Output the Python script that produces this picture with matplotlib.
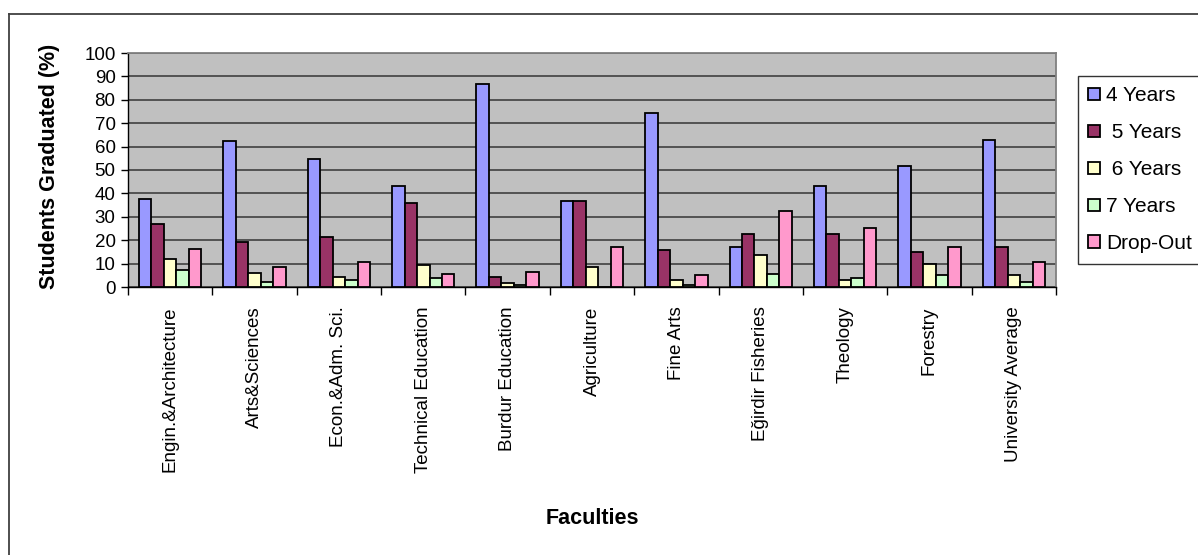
import matplotlib
matplotlib.use("Agg")  # no display in the sandbox
import matplotlib.pyplot as plt
import numpy as np
from matplotlib.lines import Line2D

plt.rcParams["font.family"] = ["Liberation Sans", "DejaVu Sans"]

# ─────────────────────────────────────────────────────────────
# DATA
# ─────────────────────────────────────────────────────────────

faculties = [
    "Engin.&Architecture", "Arts&Sciences", "Econ.&Adm. Sci.",
    "Technical Education", "Burdur Education", "Agriculture",
    "Fine Arts", "Eğirdir Fisheries", "Theology", "Forestry",
    "University Average",
]
series_labels = ["4 Years", " 5 Years", " 6 Years", "7 Years", "Drop-Out"]

years4 = [37.5, 62.2, 54.5, 43.2, 86.9, 36.7, 74.2, 17.0, 43.2, 51.9, 62.9]
years5 = [27.1, 19.4, 21.3, 35.7, 4.1, 36.7, 16.0, 22.8, 22.8, 15.1, 17.0]
years6 = [11.8, 5.8, 4.1, 9.3, 1.6, 8.4, 3.1, 13.6, 3.1, 10.0, 5.0]
years7 = [7.4, 2.3, 3.1, 4.0, 0.8, 0.0, 0.7, 5.7, 4.0, 5.0, 2.1]
dropout = [16.1, 8.4, 10.8, 5.7, 6.6, 17.0, 5.1, 32.4, 25.4, 17.0, 10.8]

series_colors = ["#9999FF", "#993366", "#FFFFCC", "#CCFFCC", "#FF99CC"]

W, H = 1198, 555


def px(x0, y0):
    """Pixel position (from top-left) to figure fraction."""
    return x0 / W, 1 - y0 / H


# ─────────────────────────────────────────────────────────────
# FIGURE
# ─────────────────────────────────────────────────────────────

fig = plt.figure(figsize=(W / 100, H / 100), dpi=100)

# outer chart-area border (left and top only are visible)
fig.add_artist(Line2D([9 / W, 9 / W], [0, 1 - 14 / H], transform=fig.transFigure,
                      color="#404040", lw=1.3))
fig.add_artist(Line2D([9 / W, 1], [1 - 14 / H, 1 - 14 / H], transform=fig.transFigure,
                      color="#404040", lw=1.3))

left, top = px(128, 53)
right, bottom = px(1056, 287)
ax = fig.add_axes([left, bottom, right - left, top - bottom])
ax.set_facecolor("#C0C0C0")

x = np.arange(len(faculties))
width = 0.148
all_series = [years4, years5, years6, years7, dropout]
handles = []
for i, (vals, col) in enumerate(zip(all_series, series_colors)):
    b = ax.bar(x + (i - 2) * width, vals, width, color=col, edgecolor="black",
               linewidth=1.3, zorder=3)
    handles.append(b)

ax.set_xlim(-0.5, len(faculties) - 0.5)
ax.set_ylim(0, 100)
ax.set_yticks(np.arange(0, 101, 10))
ax.yaxis.grid(True, color="#404040", linewidth=1.2, zorder=0)
ax.set_axisbelow(True)

ax.set_xticks(x)
ax.set_xticklabels(faculties, rotation=90, fontsize=13.5)
ax.set_xticks(np.arange(-0.5, len(faculties)), minor=True)
ax.tick_params(axis="x", which="major", length=0, pad=14)
ax.tick_params(axis="x", which="minor", length=6, width=1, color="black")
ax.tick_params(axis="y", length=5, width=1, labelsize=13.5, pad=4)

for side in ("top", "right"):
    ax.spines[side].set_color("#808080")
    ax.spines[side].set_linewidth(1.3)
for side in ("left", "bottom"):
    ax.spines[side].set_color("black")
    ax.spines[side].set_linewidth(1)

fig.text(50 / W, 1 - 166 / H, "Students Graduated (%)", fontsize=15.5,
         fontweight="bold", rotation=90, ha="center", va="center")
fig.text(592 / W, 1 - 519 / H, "Faculties", fontsize=15.5, fontweight="bold",
         ha="center", va="center")

leg = fig.legend(handles, series_labels, loc="upper left",
                 bbox_to_anchor=px(1078, 76), fontsize=15,
                 frameon=True, fancybox=False, edgecolor="black",
                 handlelength=0.55, handleheight=0.55, handletextpad=0.3,
                 labelspacing=0.86, borderpad=0.5, borderaxespad=0)
leg.get_frame().set_linewidth(1)

fig.savefig("out.png", dpi=100)
plt.close(fig)
